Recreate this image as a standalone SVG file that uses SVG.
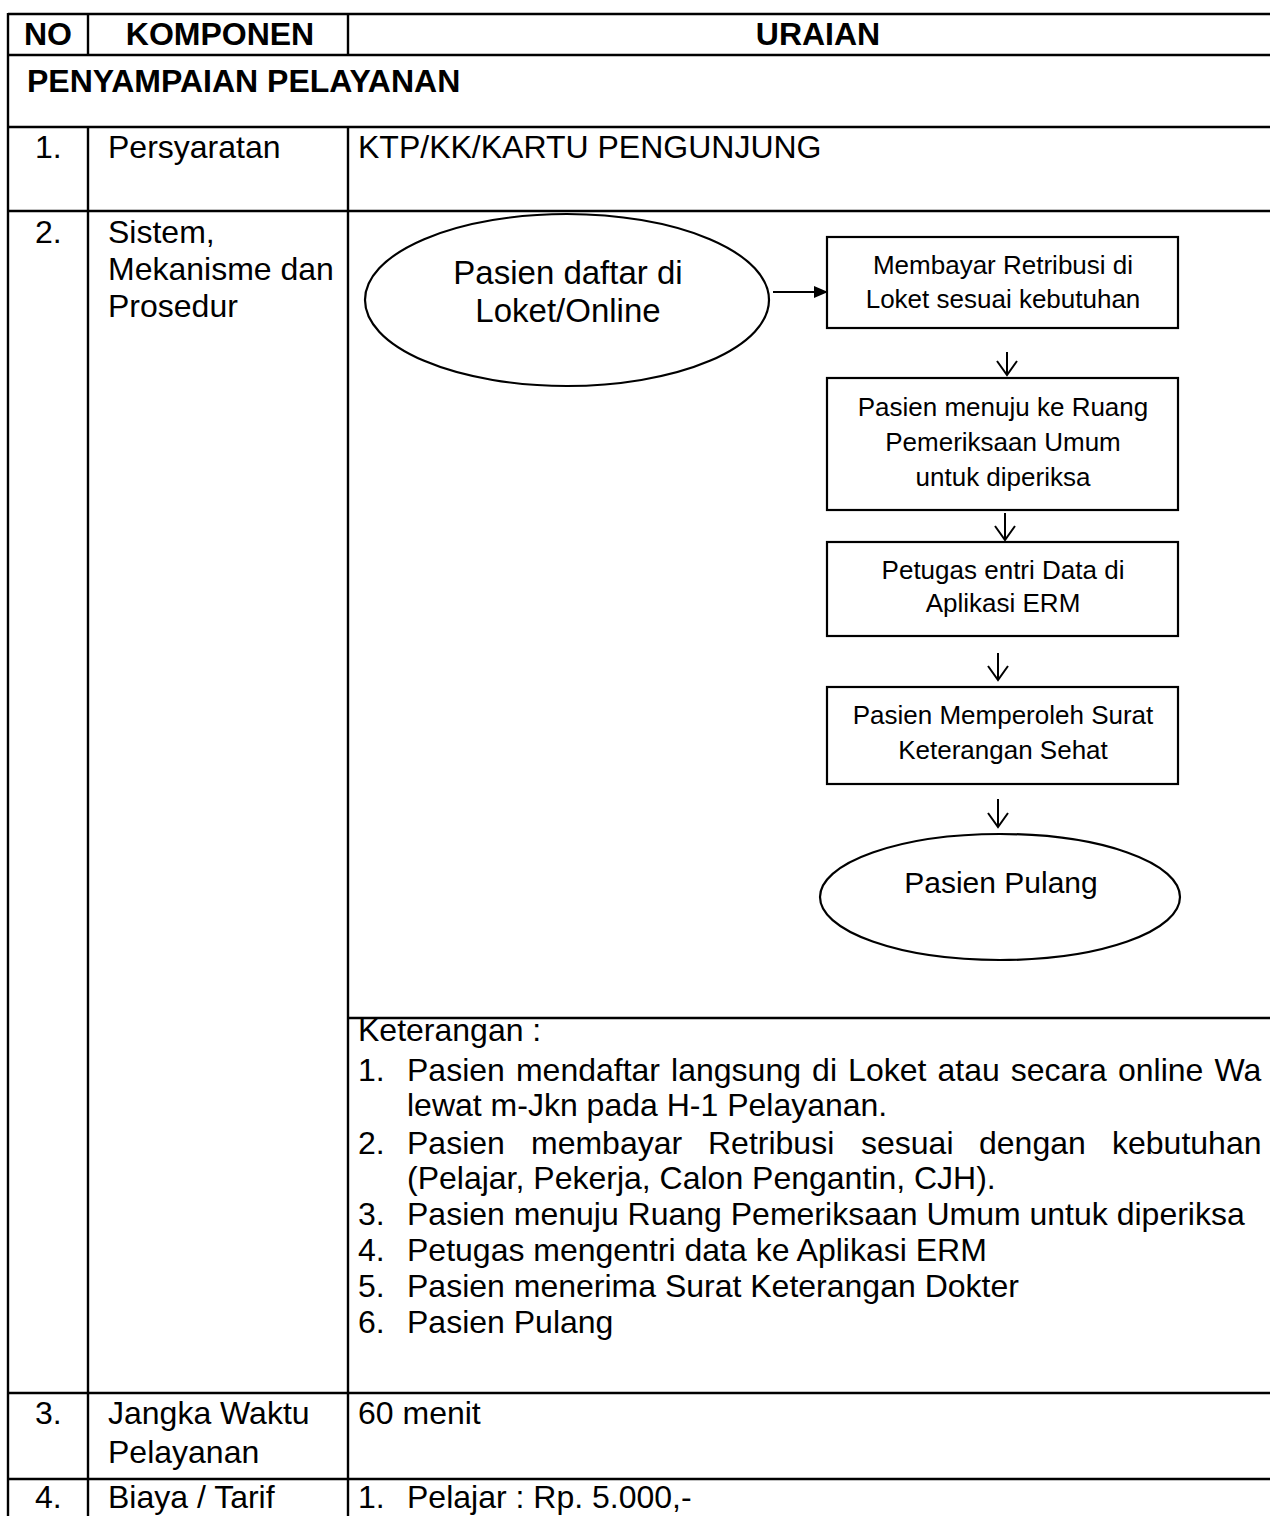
<svg xmlns="http://www.w3.org/2000/svg" width="1270" height="1516" viewBox="0 0 1270 1516">
  <style>
    .t { font-family: "Liberation Sans", Arial, sans-serif; font-size: 32px; fill: #000; }
    .b { font-weight: bold; }
    .s { font-size: 26px; }
    .c { text-anchor: middle; }
    .grid line { stroke: #000; stroke-width: 2.4; }
    .shape { fill: #fff; stroke: #000; stroke-width: 2.2; }
    .conn path { fill: none; stroke: #000; stroke-width: 2; }
  </style>
  <defs>
    <marker id="head" viewBox="0 0 14 12" refX="13" refY="6" markerWidth="14" markerHeight="12" markerUnits="userSpaceOnUse" orient="auto">
      <path d="M0,0 L14,6 L0,12 Z" fill="#000"/>
    </marker>
  </defs>
  <rect width="1270" height="1516" fill="#fff"/>

  <!-- table rules -->
  <g id="table-grid" class="grid">
    <line x1="8" y1="14" x2="1270" y2="14"/>
    <line x1="8" y1="55" x2="1270" y2="55"/>
    <line x1="8" y1="127" x2="1270" y2="127"/>
    <line x1="8" y1="211" x2="1270" y2="211"/>
    <line x1="348" y1="1018" x2="1270" y2="1018"/>
    <line x1="8" y1="1393" x2="1270" y2="1393"/>
    <line x1="8" y1="1479" x2="1270" y2="1479"/>
    <line x1="8" y1="13" x2="8" y2="1516"/>
    <line x1="88" y1="14" x2="88" y2="55"/>
    <line x1="348" y1="14" x2="348" y2="55"/>
    <line x1="88" y1="127" x2="88" y2="1516"/>
    <line x1="348" y1="127" x2="348" y2="1516"/>
  </g>

  <!-- table text -->
  <g id="table-text">
    <text class="t b c" x="48" y="45">NO</text>
    <text class="t b c" x="220" y="45">KOMPONEN</text>
    <text class="t b c" x="818" y="45">URAIAN</text>
    <text class="t b" x="27" y="92">PENYAMPAIAN PELAYANAN</text>

    <text class="t" x="35" y="158">1.</text>
    <text class="t" x="108" y="158">Persyaratan</text>
    <text class="t" x="358" y="158">KTP/KK/KARTU PENGUNJUNG</text>

    <text class="t" x="35" y="243">2.</text>
    <text class="t" x="108" y="243">Sistem,</text>
    <text class="t" x="108" y="280">Mekanisme dan</text>
    <text class="t" x="108" y="317">Prosedur</text>

    <text class="t" x="358" y="1041">Keterangan :</text>
    <text class="t" x="358" y="1081">1.</text>
    <text class="t" x="407" y="1081" word-spacing="2.2">Pasien mendaftar langsung di Loket atau secara online Wa</text>
    <text class="t" x="407" y="1116">lewat m-Jkn pada H-1 Pelayanan.</text>
    <text class="t" x="358" y="1154">2.</text>
    <text class="t" y="1154"><tspan x="407">Pasien</tspan><tspan x="531">membayar</tspan><tspan x="708">Retribusi</tspan><tspan x="861">sesuai</tspan><tspan x="979">dengan</tspan><tspan x="1112">kebutuhan</tspan></text>
    <text class="t" x="407" y="1189">(Pelajar, Pekerja, Calon Pengantin, CJH).</text>
    <text class="t" x="358" y="1225">3.</text>
    <text class="t" x="407" y="1225">Pasien menuju Ruang Pemeriksaan Umum untuk diperiksa</text>
    <text class="t" x="358" y="1261">4.</text>
    <text class="t" x="407" y="1261">Petugas mengentri data ke Aplikasi ERM</text>
    <text class="t" x="358" y="1297">5.</text>
    <text class="t" x="407" y="1297">Pasien menerima Surat Keterangan Dokter</text>
    <text class="t" x="358" y="1333">6.</text>
    <text class="t" x="407" y="1333">Pasien Pulang</text>

    <text class="t" x="35" y="1424">3.</text>
    <text class="t" x="108" y="1424">Jangka Waktu</text>
    <text class="t" x="108" y="1463">Pelayanan</text>
    <text class="t" x="358" y="1424">60 menit</text>

    <text class="t" x="35" y="1508">4.</text>
    <text class="t" x="108" y="1508">Biaya / Tarif</text>
    <text class="t" x="358" y="1508">1.</text>
    <text class="t" x="407" y="1508">Pelajar : Rp. 5.000,-</text>
  </g>

  <!-- flow nodes -->
  <g id="start">
    <ellipse class="shape" cx="567" cy="300" rx="202" ry="86"/>
    <text class="t c" x="568" y="284" style="font-size:33px">Pasien daftar di</text>
    <text class="t c" x="568" y="322" style="font-size:33px">Loket/Online</text>
  </g>
  <g id="bayar">
    <rect class="shape" x="827" y="237" width="351" height="91"/>
    <text class="t s c" x="1003" y="274">Membayar Retribusi di</text>
    <text class="t s c" x="1003" y="308">Loket sesuai kebutuhan</text>
  </g>
  <g id="periksa">
    <rect class="shape" x="827" y="378" width="351" height="132"/>
    <text class="t s c" x="1003" y="416">Pasien menuju ke Ruang</text>
    <text class="t s c" x="1003" y="451">Pemeriksaan Umum</text>
    <text class="t s c" x="1003" y="486">untuk diperiksa</text>
  </g>
  <g id="entri">
    <rect class="shape" x="827" y="542" width="351" height="94"/>
    <text class="t s c" x="1003" y="579">Petugas entri Data di</text>
    <text class="t s c" x="1003" y="612">Aplikasi ERM</text>
  </g>
  <g id="surat">
    <rect class="shape" x="827" y="687" width="351" height="97"/>
    <text class="t s c" x="1003" y="724">Pasien Memperoleh Surat</text>
    <text class="t s c" x="1003" y="759">Keterangan Sehat</text>
  </g>
  <g id="pulang">
    <ellipse class="shape" cx="1000" cy="897" rx="180" ry="63"/>
    <text class="t c" x="1001" y="893" style="font-size:30px">Pasien Pulang</text>
  </g>

  <!-- connectors -->
  <g id="connectors" class="conn">
    <path d="M773,292 H827" marker-end="url(#head)"/>
    <path d="M1007,352 V375 M997,361 L1007,375 L1017,361"/>
    <path d="M1005,513 V540 M995,526 L1005,540 L1015,526"/>
    <path d="M998,653 V680 M988,666 L998,680 L1008,666"/>
    <path d="M998,799 V827 M988,813 L998,827 L1008,813"/>
  </g>
</svg>
